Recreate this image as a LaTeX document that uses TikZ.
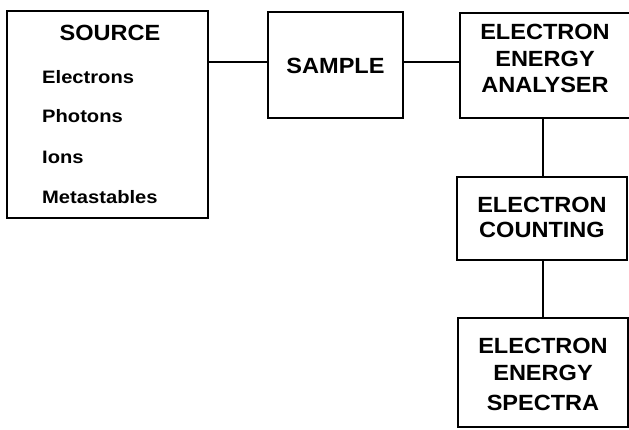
\documentclass[tikz,border=0pt]{standalone}
\usepackage{fontspec}
\newfontfamily\bigf[FakeStretch=1.07]{Liberation Sans Bold}
\newfontfamily\smallf[FakeStretch=1.12]{Liberation Sans Bold}
\begin{document}
\begin{tikzpicture}[x=1pt,y=-1pt,
  blk/.style={draw,line width=2pt,inner sep=0pt},
  bigtxt/.style={font=\bigf\fontsize{22}{26}\selectfont,anchor=base,inner sep=0pt},
  smalltxt/.style={font=\smallf\fontsize{18}{20}\selectfont,anchor=base west,inner sep=0pt},
  link/.style={line width=2pt}]
\useasboundingbox (0,0) rectangle (629,429);
\node[blk,minimum width=201pt,minimum height=207pt] (source) at (107.5,114.5) {};
\node[blk,minimum width=135pt,minimum height=106pt] (sample) at (335.5,65) {};
\node[blk,minimum width=172pt,minimum height=105pt] (analyser) at (546,65.5) {};
\node[blk,minimum width=170pt,minimum height=83pt] (counting) at (542,218.5) {};
\node[blk,minimum width=170pt,minimum height=109pt] (spectra) at (543,372.5) {};
% texts
\node[bigtxt] (tsource) at (110,40) {SOURCE};
\node[smalltxt] (t1) at (42,83) {Electrons};
\node[smalltxt] (t2) at (42,122) {Photons};
\node[smalltxt] (t3) at (42,163) {Ions};
\node[smalltxt] (t4) at (42,203) {Metastables};
\node[bigtxt] (tsample) at (335.5,73) {SAMPLE};
\node[bigtxt] (ta1) at (545,39) {ELECTRON};
\node[bigtxt] (ta2) at (545,66) {ENERGY};
\node[bigtxt] (ta3) at (545,92) {ANALYSER};
\node[bigtxt] (tc1) at (542,212) {ELECTRON};
\node[bigtxt] (tc2) at (542,237) {COUNTING};
\node[bigtxt] (ts1) at (543,353) {ELECTRON};
\node[bigtxt] (ts2) at (543,380) {ENERGY};
\node[bigtxt] (ts3) at (543,410) {SPECTRA};
% connectors
\draw[link] (source.east |- 0,62) -- (sample.west |- 0,62);
\draw[link] (sample.east |- 0,62) -- (analyser.west |- 0,62);
\draw[link] (analyser.south -| 543,0) -- (counting.north -| 543,0);
\draw[link] (counting.south -| 543,0) -- (spectra.north -| 543,0);
\end{tikzpicture}
\end{document}
